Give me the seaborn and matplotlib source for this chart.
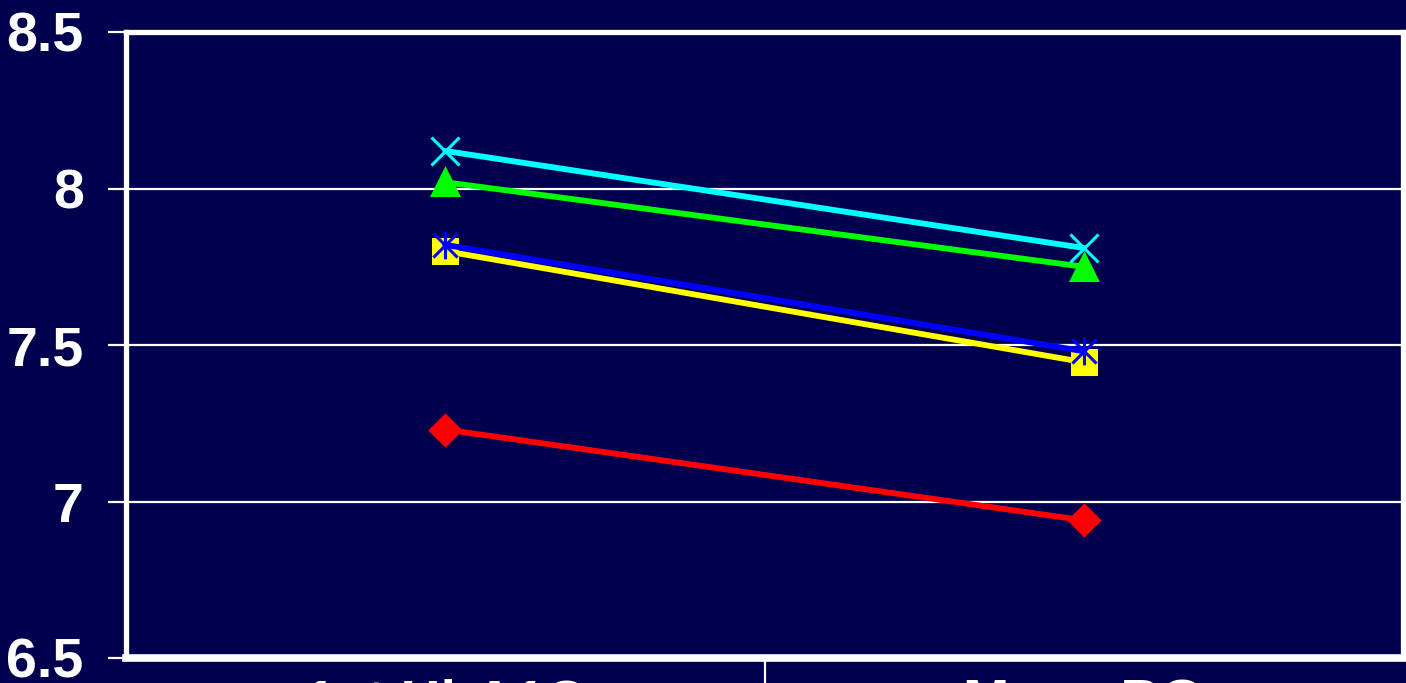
import matplotlib
matplotlib.use("Agg")
import matplotlib.pyplot as plt
import seaborn as sns
import pandas as pd
from matplotlib.path import Path
from matplotlib.ticker import FixedLocator

# Categories along the x axis
categories = ["1st HbA1C", "Mean BG"]

# Series values (one per category)
red_vals = [7.23, 6.94]
yellow_vals = [7.80, 7.445]
blue_vals = [7.82, 7.48]
green_vals = [8.02, 7.75]
cyan_vals = [8.12, 7.81]

series_names = ["red", "yellow", "blue", "green", "cyan"]
series_vals = [red_vals, yellow_vals, blue_vals, green_vals, cyan_vals]

y_ticks = [6.5, 7, 7.5, 8, 8.5]
y_tick_labels = ["6.5", "7", "7.5", "8", "8.5"]

rows = []
for name, vals in zip(series_names, series_vals):
    for i, v in enumerate(vals):
        rows.append({"series": name, "pos": i, "value": v})
df = pd.DataFrame(rows)

# Asterisk marker: an "x" with a vertical stroke through it
star_path = Path(
    [(-1, -1), (1, 1), (-1, 1), (1, -1), (0, -1.15), (0, 1.15)],
    [Path.MOVETO, Path.LINETO, Path.MOVETO, Path.LINETO, Path.MOVETO, Path.LINETO],
)

bg = "#00004F"
palette = {"red": "#FF0000", "yellow": "#FFFF00", "blue": "#0000FF",
           "green": "#00FF00", "cyan": "#00FFFF"}
marker_map = {"red": "D", "yellow": "s", "blue": star_path,
              "green": "^", "cyan": "x"}
marker_size = {"red": 15, "yellow": 17, "blue": 20, "green": 19, "cyan": 20}

sns.set_style("white")
plt.rcParams["font.family"] = ["Liberation Sans", "DejaVu Sans"]

fig = plt.figure(figsize=(14.06, 6.83), dpi=100, facecolor=bg)
ax = fig.add_axes([126 / 1406, 1 - 658 / 683, (1403 - 126) / 1406, (658 - 32) / 683])
ax.set_facecolor(bg)

for y in [7, 7.5, 8]:
    ax.axhline(y, color="white", lw=1.6, zorder=1)

for name in series_names:
    sub = df[df["series"] == name]
    c = palette[name]
    sns.lineplot(data=sub, x="pos", y="value", ax=ax, color=c, lw=4.2,
                 marker=marker_map[name], markersize=marker_size[name],
                 markeredgecolor=c, markerfacecolor=c, markeredgewidth=2.2,
                 legend=False, zorder=3)

ax.set_xlim(-0.5, 1.5)
ax.set_ylim(6.5, 8.5)
ax.set_xlabel("")
ax.set_ylabel("")

ax.set_yticks(y_ticks)
ax.set_yticklabels(y_tick_labels)
ax.tick_params(axis="y", left=True, colors="white", length=13, width=1.6,
               labelsize=40, pad=17.5)
for lab in ax.get_yticklabels():
    lab.set_fontweight("bold")

ax.set_xticks(range(len(categories)))
ax.set_xticklabels(categories)
ax.tick_params(axis="x", which="major", bottom=True, length=0, colors="white",
               labelsize=40, pad=15)
for lab in ax.get_xticklabels():
    lab.set_fontweight("bold")
ax.xaxis.set_minor_locator(FixedLocator([0.5]))
ax.tick_params(axis="x", which="minor", bottom=True, length=40, width=1.6,
               colors="white", direction="out")

for side in ["left", "top", "right"]:
    ax.spines[side].set_color("white")
    ax.spines[side].set_linewidth(3.8)
    ax.spines[side].set_visible(True)
ax.spines["bottom"].set_color("white")
ax.spines["bottom"].set_linewidth(5.5)
ax.spines["bottom"].set_visible(True)

fig.savefig("out.png", dpi=100, facecolor=bg)
